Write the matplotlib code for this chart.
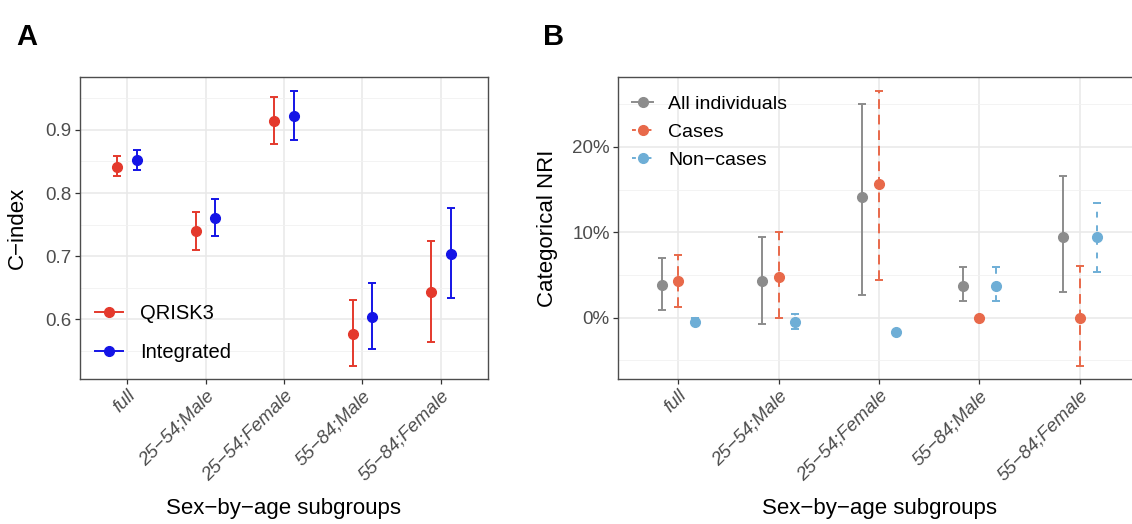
import matplotlib
matplotlib.use("Agg")
import matplotlib.pyplot as plt
from matplotlib.lines import Line2D
from matplotlib.ticker import FuncFormatter, MultipleLocator
import numpy as np

plt.rcParams['font.family'] = ['Liberation Sans', 'DejaVu Sans']

groups = ["full", "25\u221254;Male", "25\u221254;Female", "55\u221284;Male", "55\u221284;Female"]

# panel A: C-index
qrisk3 = [0.842, 0.740, 0.914, 0.577, 0.643]
qrisk3_lo = [0.827, 0.710, 0.877, 0.525, 0.563]
qrisk3_hi = [0.858, 0.770, 0.952, 0.631, 0.724]
integ = [0.852, 0.761, 0.922, 0.604, 0.704]
integ_lo = [0.836, 0.732, 0.884, 0.553, 0.633]
integ_hi = [0.868, 0.791, 0.962, 0.657, 0.776]

# panel B: categorical NRI (%)
all_ind = [3.84, 4.27, 14.08, 3.72, 9.44]
all_lo = [0.90, -0.74, 2.63, 1.92, 2.98]
all_hi = [7.04, 9.50, 25.05, 5.87, 16.55]
cases = [4.27, 4.81, 15.69, 0.0, 0.0]
cases_lo = [1.22, 0.0, 4.35, 0.0, -5.67]
cases_hi = [7.36, 10.0, 26.6, 0.0, 6.10]
noncases = [-0.50, -0.55, -1.71, 3.72, 9.44]
noncases_lo = [-0.90, -1.37, -2.00, 1.92, 5.33]
noncases_hi = [-0.10, 0.43, -1.40, 5.87, 13.43]

W, H = 1132, 524
fig = plt.figure(figsize=(W / 100, H / 100), dpi=100)

def px_axes(l, t, r, b):
    return fig.add_axes([l / W, 1 - b / H, (r - l) / W, (b - t) / H])

def style_axes(ax, ylim, major, minor):
    ax.set_xlim(0.4, 5.6)
    ax.set_ylim(*ylim)
    ax.set_xticks(range(1, 6))
    ax.set_xticklabels(groups, rotation=45, ha='right', va='top',
                       rotation_mode='anchor', style='italic',
                       fontsize=13, color='#4D4D4D')
    ax.yaxis.set_major_locator(MultipleLocator(major))
    ax.yaxis.set_minor_locator(MultipleLocator(minor))
    ax.tick_params(axis='y', which='minor', length=0)
    ax.tick_params(which='major', length=3.5, width=0.9, color='#333333',
                   labelsize=13.5, labelcolor='#4D4D4D', pad=2.5)
    ax.grid(True, which='major', color='#E8E8E8', linewidth=1.1, zorder=0)
    ax.grid(True, which='minor', axis='y', color='#F1F1F1', linewidth=0.6, zorder=0)
    ax.set_axisbelow(True)
    for s in ax.spines.values():
        s.set_color('#4D4D4D')
        s.set_linewidth(1.0)

def pointrange(ax, x, y, lo, hi, color, ls):
    y = np.array(y)
    err = [y - np.array(lo), np.array(hi) - y]
    eb = ax.errorbar(x, y, yerr=err, fmt='o', color=color, markersize=7,
                     elinewidth=1.4, capsize=2.7, capthick=1.4, zorder=3)
    eb[2][0].set_linestyle(ls)

x = np.arange(1, 6)

# ---- panel A
axA = px_axes(80, 77, 488, 379)
style_axes(axA, (0.505, 0.984), 0.1, 0.05)
red_a, blue_a = '#E4392C', '#1414E6'
pointrange(axA, x - 0.125, qrisk3, qrisk3_lo, qrisk3_hi, red_a, '-')
pointrange(axA, x + 0.125, integ, integ_lo, integ_hi, blue_a, '-')
axA.yaxis.set_major_formatter(FuncFormatter(lambda v, p: f"{v:.1f}"))
axA.set_ylabel("C\u2212index", fontsize=16)
axA.yaxis.set_label_coords(-0.127, 0.5)
axA.text(0.5, -0.43, "Sex\u2212by\u2212age subgroups", transform=axA.transAxes,
         ha='center', va='center', fontsize=16)
handlesA = [Line2D([], [], color=red_a, marker='o', markersize=7, lw=1.4),
            Line2D([], [], color=blue_a, marker='o', markersize=7, lw=1.4)]
axA.legend(handlesA, ["QRISK3", "Integrated"], loc='lower left',
           bbox_to_anchor=(0.0, 0.005), frameon=False, fontsize=14.5,
           handlelength=1.4, handletextpad=0.85, labelspacing=1.0,
           borderaxespad=0.35)

# ---- panel B
axB = px_axes(618, 77, 1140, 379)
style_axes(axB, (-7.2, 28.2), 10, 5)
gray_b, red_b, blue_b = '#8C8C8C', '#E8694A', '#6EAED6'
pointrange(axB, x - 1 / 6, all_ind, all_lo, all_hi, gray_b, '-')
pointrange(axB, x, cases, cases_lo, cases_hi, red_b, (0, (5, 3)))
pointrange(axB, x + 1 / 6, noncases, noncases_lo, noncases_hi, blue_b, (0, (3, 4)))
axB.yaxis.set_major_formatter(FuncFormatter(lambda v, p: f"{v:.0f}%"))
axB.set_ylabel("Categorical NRI", fontsize=16)
axB.yaxis.set_label_coords(-0.115, 0.5)
axB.text(0.5, -0.43, "Sex\u2212by\u2212age subgroups", transform=axB.transAxes,
         ha='center', va='center', fontsize=16)
handlesB = [Line2D([], [], color=gray_b, marker='o', markersize=7, lw=1.4),
            Line2D([], [], color=red_b, marker='o', markersize=7, lw=1.4, ls=(0, (2, 2))),
            Line2D([], [], color=blue_b, marker='o', markersize=7, lw=1.4, ls=(0, (2, 2)))]
axB.legend(handlesB, ["All individuals", "Cases", "Non\u2212cases"], loc='upper left',
           bbox_to_anchor=(0.0, 0.985), frameon=False, fontsize=14,
           handlelength=1.1, handletextpad=0.77, labelspacing=0.52,
           borderaxespad=0.32)

fig.text(16 / W, 1 - 45 / H, "A", fontsize=21, fontweight='bold', va='baseline')
fig.text(543 / W, 1 - 45 / H, "B", fontsize=21, fontweight='bold', va='baseline')

fig.savefig("out.png", dpi=100)
